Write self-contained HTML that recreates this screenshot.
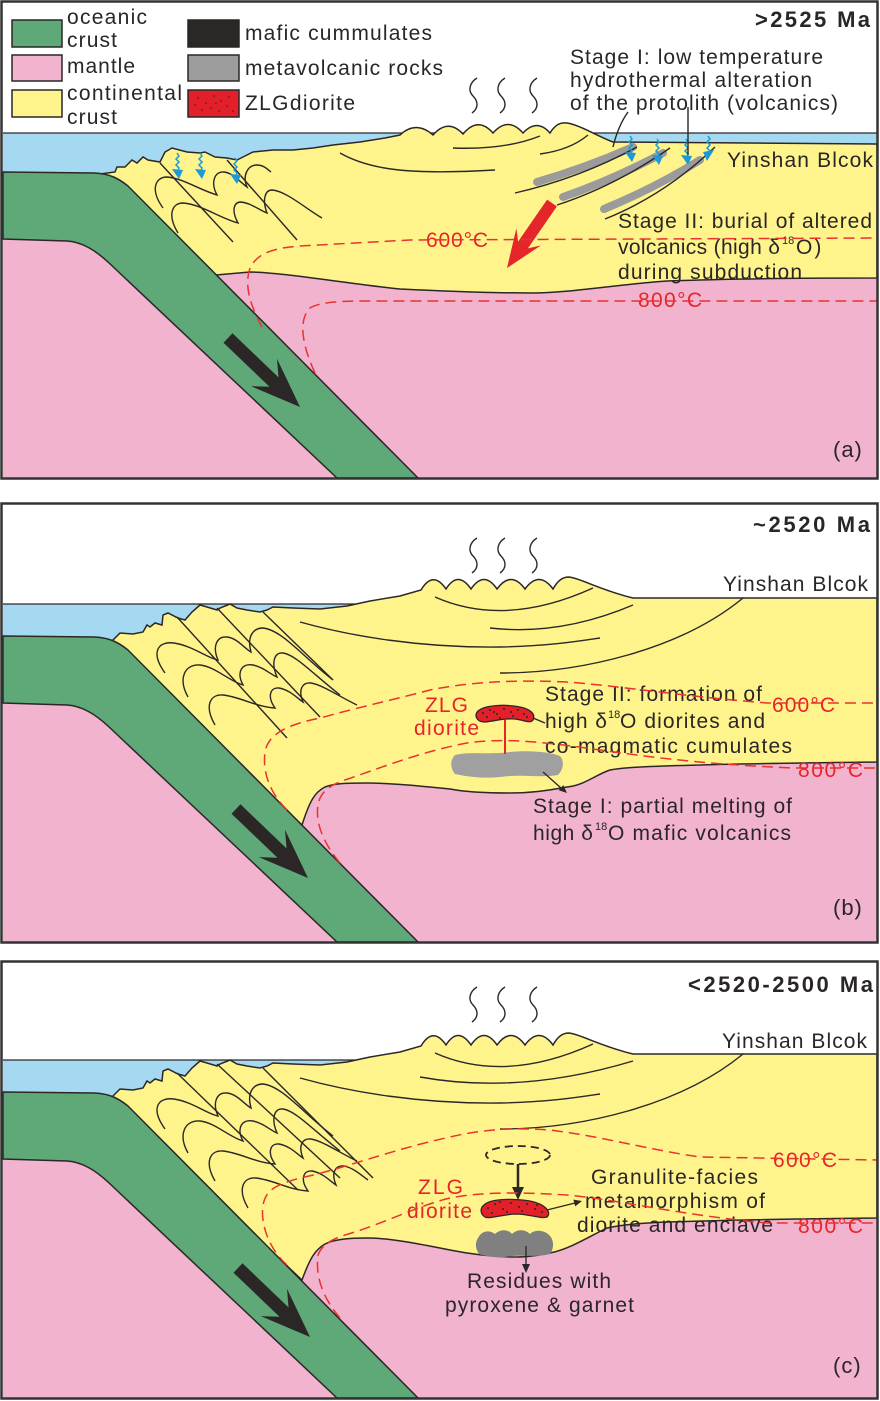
<!DOCTYPE html>
<html><head><meta charset="utf-8">
<style>
html,body{margin:0;padding:0;background:#fff;}
svg{display:block;}
text{font-family:"Liberation Sans",Arial,sans-serif;fill:#2a2627;font-size:21px;}
.r{fill:#e4262b;}
.b{font-weight:bold;font-size:22px;}
.s{font-size:11px;}
.t{font-size:22px;letter-spacing:1px;}
.ln{fill:none;stroke:#2b2727;stroke-width:1.4;}
.iso{fill:none;stroke:#e8332f;stroke-width:1.5;stroke-dasharray:11 6;}
</style></head><body>
<svg width="880" height="1401" viewBox="0 0 880 1401" xmlns="http://www.w3.org/2000/svg">
<rect x="0" y="0" width="880" height="1401" fill="#fff"/>

<!-- ================= PANEL A ================= -->
<rect x="3" y="225" width="874" height="253" fill="#f2b3cf"/>
<rect x="3" y="133" width="874" height="45" fill="#a5d9f2"/>
<line x1="3" y1="133" x2="877" y2="133" stroke="#2b2727" stroke-width="1.2"/>
<path d="M100,174 L115,172 L117,167 L125,167 L132,160 L137,163 L143,157 L148,160 L160,162 L165,152 L172,148 L187,152 L200,153 L205,152 L215,157 L227,158 L237,160 L243,157 L253,152 L273,150 L293,150 L313,148 L333,145 L360,142 L385,138 L400,135 Q416,120 433,135 Q448,118 463,134 Q478,116 493,133 Q508,116 523,133 Q537,118 550,133 C555,125 560,122 567,123 C580,125 595,135 613,142 L877,144 L877,278 C800,278 720,279 667,281 C620,284 570,293 533,293 C490,293 440,291 400,289 C350,284 280,272 250,272 L216,275 Z" fill="#fff48c" stroke="#2b2727" stroke-width="1.5"/>
<path d="M3,172 L95,173 C110,174 118,178 128,186 L418,478 L337,478 L108,262 C95,250 82,242 67,241 L3,239 Z" fill="#5fa878" stroke="#2b2727" stroke-width="1.5"/>
<polygon points="232.5,333.3 278.5,377.4 277,358.7 300,407 250.8,386.1 269.5,386.8 223.5,342.7" fill="#2b2727"/>
<path class="ln" d="M340,153 C370,170 410,175 495,170"/>
<path class="ln" d="M453,148 Q505,150 540,136"/>
<path class="ln" d="M540,154 Q570,150 588,135"/>
<g fill="none" stroke="#9b9b9b" stroke-width="8" stroke-linecap="round">
<path d="M537,182 Q585,168 633,147"/>
<path d="M563,197 Q612,180 663,153"/>
<path d="M604,209 Q655,188 700,160"/>
</g>
<path class="ln" d="M515,193 Q580,178 637,147"/>
<path class="ln" d="M557,205 Q615,186 670,148"/>
<path class="ln" d="M605,219 Q665,195 715,147"/>
<path class="ln" d="M163,208 C150,190 155,177 167,177 C182,178 200,190 217,195 C210,182 215,171 224,172 C233,173 240,182 247,187 C242,175 248,165 257,165 C264,165 268,170 271,172"/>
<path class="ln" d="M178,233 C167,215 172,203 183,203 C200,204 220,218 238,223 C231,210 234,202 241,202 C251,203 259,210 267,213 C262,200 265,190 272,190 C286,191 305,208 322,218"/>
<path class="ln" d="M160,163 L233,242"/>
<path class="ln" d="M227,160 L297,240"/>
<g fill="none" stroke="#1b9ad6" stroke-width="1.5">
<path d="M177,153 l2,3 l-3,3 l3,3 l-3,3 l3,3 l-1,3"/>
<path d="M200,153 l2,3 l-3,3 l3,3 l-3,3 l3,3 l-1,3"/>
<path d="M235,158 l2,3 l-3,3 l3,3 l-3,3 l3,3 l-1,3"/>
<path d="M630,136 l2,3 l-3,3 l3,3 l-3,3 l3,3 l-1,3"/>
<path d="M657,139 l2,3 l-3,3 l3,3 l-3,3 l3,3 l-1,3"/>
<path d="M686,139 l2,3 l-3,3 l3,3 l-3,3 l3,3 l-1,3"/>
<path d="M708,136 l2,3 l-3,3 l3,3 l-3,3 l3,3 l-1,3"/>
</g>
<g fill="#1b9ad6">
<polygon points="172,169 183,170 179,179"/>
<polygon points="195,169 206,170 202,179"/>
<polygon points="230,174 241,175 237,184"/>
<polygon points="625,152 636,153 632,162"/>
<polygon points="652,155 663,156 659,165"/>
<polygon points="681,155 692,156 688,165"/>
<polygon points="703,152 714,150 707,161"/>
</g>
<g class="ln">
<path d="M477,78 C469,83 468,91 473,96 C478,101 479,108 472,113"/>
<path d="M505,78 C497,83 496,91 501,96 C506,101 507,108 500,113"/>
<path d="M537,78 C529,83 528,91 533,96 C538,101 539,108 532,113"/>
</g>
<path class="ln" d="M628,112 Q618,126 613,147" stroke-width="1.2"/>
<path class="ln" d="M688,107 L688,155" stroke-width="1.2"/>
<polygon points="556.9,206.4 527.9,248.4 541,245.4 507,268 516.4,228.2 518.1,241.6 547.1,199.6" fill="#e4262b"/>
<rect x="12" y="20" width="50" height="27" fill="#5fa878" stroke="#2b2727" stroke-width="1.5"/>
<rect x="12" y="55" width="50" height="26" fill="#f2b3cf" stroke="#2b2727" stroke-width="1.5"/>
<rect x="12" y="90" width="50" height="27" fill="#fff48c" stroke="#2b2727" stroke-width="1.5"/>
<rect x="188" y="20" width="51" height="27" fill="#2b2727" stroke="#2b2727" stroke-width="1.5"/>
<rect x="188" y="55" width="51" height="26" fill="#9d9d9d" stroke="#2b2727" stroke-width="1.5"/>
<rect x="188" y="90" width="51" height="27" fill="#e3202a" stroke="#2b2727" stroke-width="1.5"/>
<g fill="#2b2727">
<circle cx="198" cy="98" r="0.8"/><circle cx="206" cy="103" r="0.8"/><circle cx="214" cy="96" r="0.8"/><circle cx="221" cy="101" r="0.8"/><circle cx="229" cy="97" r="0.8"/><circle cx="202" cy="110" r="0.8"/><circle cx="211" cy="108" r="0.8"/><circle cx="219" cy="111" r="0.8"/><circle cx="227" cy="106" r="0.8"/><circle cx="233" cy="111" r="0.8"/><circle cx="195" cy="105" r="0.8"/><circle cx="216" cy="103" r="0.8"/>
</g>
<text x="67" y="24" textLength="80">oceanic</text>
<text x="67" y="47" textLength="50">crust</text>
<text x="67" y="73" textLength="68">mantle</text>
<text x="67" y="100" textLength="115">continental</text>
<text x="67" y="124" textLength="50">crust</text>
<text x="245" y="40" textLength="187">mafic cummulates</text>
<text x="245" y="75" textLength="198">metavolcanic rocks</text>
<text x="245" y="110" textLength="110">ZLGdiorite</text>
<text class="b" x="755" y="27" textLength="115">&gt;2525 Ma</text>
<text x="570" y="64" textLength="253">Stage I: low temperature</text>
<text x="570" y="87" textLength="242">hydrothermal alteration</text>
<text x="570" y="110" textLength="268">of the protolith (volcanics)</text>
<text x="727" y="167" textLength="146">Yinshan Blcok</text>
<text x="618" y="228" textLength="254">Stage II: burial of altered</text>
<text x="618" y="254" textLength="162">volcanics (high δ</text>
<text class="s" x="782" y="244">18</text>
<text x="796" y="254" style="letter-spacing:2px">O)</text>
<text x="618" y="279" textLength="184">during subduction</text>
<text class="r" x="426" y="247" textLength="62">600°C</text>
<text class="r" x="638" y="307" textLength="64">800°C</text>
<text class="t" x="833" y="457">(a)</text>
<path class="iso" d="M262,327 C250,305 244,285 250,268 C258,252 275,248 300,246 L410,240 L877,238"/>
<path class="iso" d="M315,373 C302,345 298,320 310,308 C320,302 340,301 370,301 L877,301"/>
<rect x="1.5" y="1.5" width="876" height="477" fill="none" stroke="#333" stroke-width="2.5"/>

<!-- ================= PANEL B ================= -->
<rect x="3" y="700" width="874" height="242" fill="#f2b3cf"/>
<rect x="3" y="604" width="357" height="46" fill="#a5d9f2"/>
<line x1="3" y1="604" x2="360" y2="604" stroke="#2b2727" stroke-width="1.2"/>
<path d="M110,643 L120,633 L133,634 L143,632 L147,625 L150,627 L155,623 L162,625 L163,615 L168,613 L178,618 L185,620 L192,612 L200,605 L207,607 L217,610 L220,608 L230,604 L237,608 L247,610 L260,612 L267,610 L273,607 L293,608 L320,609 L347,606 L370,601 L400,596 L421,590 Q433,570 446,589 Q458,570 471,589 Q484,570 497,589 Q511,570 525,589 Q539,570 553,589 C558,580 563,577 569,577 C580,578 600,590 633,598 L877,598 L877,762 C800,763 720,764 700,765 C660,766 625,767 610,770 C595,775 585,785 567,787 C545,791 530,793 510,793 C480,793 460,791 450,789 C420,786 390,783 367,783 C350,783 335,783 325,787 C315,792 310,800 302,825 Z" fill="#fff48c" stroke="#2b2727" stroke-width="1.5"/>
<path d="M3,636 L95,637 C110,638 118,642 128,650 L418,942 L337,942 L108,726 C95,714 82,706 67,705 L3,703 Z" fill="#5fa878" stroke="#2b2727" stroke-width="1.5"/>
<g transform="translate(8,471)">
<polygon points="232.5,333.3 278.5,377.4 277,358.7 300,407 250.8,386.1 269.5,386.8 223.5,342.7" fill="#2b2727"/>
</g>
<path class="ln" d="M435,597 Q505,628 593,588"/>
<path class="ln" d="M490,628 Q560,636 633,605"/>
<path class="ln" d="M300,622 C350,636 420,648 500,647 C550,646 580,641 600,638"/>
<path class="ln" d="M500,673 C580,673 680,650 743,598"/>
<path class="ln" d="M165,673 C150,652 158,641 174,643 C193,646 207,658 218,660 C212,646 217,636 227,637 C237,638 244,648 251,652 C247,638 252,628 263,628 C282,630 302,656 333,680"/>
<path class="ln" d="M188,697 C178,679 184,664 200,665 C216,667 229,681 243,685 C236,672 242,663 253,665 C263,667 270,674 277,677 C271,663 274,652 283,653 C296,655 312,673 340,695"/>
<path class="ln" d="M215,725 C204,706 210,694 223,695 C241,697 256,707 275,708 C267,697 270,687 279,688 C290,690 297,698 303,702 C298,690 302,682 311,683 C323,685 340,697 357,705"/>
<path class="ln" d="M177,617 L287,738"/>
<path class="ln" d="M217,608 L320,717"/>
<path class="ln" d="M263,612 L333,680"/>
<g class="ln">
<path d="M477,538 C469,543 468,551 473,556 C478,561 479,568 472,573"/>
<path d="M505,538 C497,543 496,551 501,556 C506,561 507,568 500,573"/>
<path d="M537,538 C529,543 528,551 533,556 C538,561 539,568 532,573"/>
</g>
<path d="M455,755 C470,751 490,755 510,752 C530,750 550,752 560,756 C565,762 563,770 558,775 C540,778 520,774 500,777 C480,779 465,776 455,774 C450,768 450,760 455,755 Z" fill="#a0a0a0"/>
<line x1="505" y1="720" x2="505" y2="754" stroke="#e4262b" stroke-width="2"/>
<path d="M478,711 C485,705 505,704 520,707 C530,709 536,714 533,720 C530,724 524,720 515,719 C505,718 495,721 485,722 C476,722 474,715 478,711 Z" fill="#e3202a" stroke="#2b2727" stroke-width="1.3"/>
<g fill="#2b2727">
<circle cx="483" cy="713" r="1"/><circle cx="490" cy="710" r="1"/><circle cx="497" cy="714" r="1"/><circle cx="504" cy="709" r="1"/><circle cx="511" cy="712" r="1"/><circle cx="518" cy="710" r="1"/><circle cx="524" cy="714" r="1"/><circle cx="487" cy="717" r="1"/><circle cx="500" cy="718" r="1"/><circle cx="513" cy="716" r="1"/><circle cx="527" cy="717" r="1"/><circle cx="494" cy="712" r="1"/>
</g>
<path class="ln" d="M533,718 L545,723" stroke-width="1.2"/>
<line x1="543" y1="772" x2="561" y2="788" stroke="#2b2727" stroke-width="1.3"/>
<polygon points="563.3,785.1 558.7,790.3 567,793" fill="#2b2727"/>
<text class="b" x="753" y="532" textLength="117">~2520 Ma</text>
<text x="723" y="591" textLength="145">Yinshan Blcok</text>
<text class="r" x="425" y="712" textLength="43">ZLG</text>
<text class="r" x="414" y="735" textLength="65">diorite</text>
<text x="545" y="701" textLength="217">Stage II: formation of</text>
<text x="545" y="728" textLength="62">high δ</text>
<text class="s" x="608" y="718">18</text>
<text x="620" y="728" textLength="145">O diorites and</text>
<text x="545" y="753" textLength="247">co-magmatic cumulates</text>
<text class="r" x="772" y="712" textLength="63">600°C</text>
<text class="r" x="798" y="777" textLength="65">800°C</text>
<text x="533" y="813" textLength="259">Stage I: partial melting of</text>
<text x="533" y="840" textLength="60">high δ</text>
<text class="s" x="595" y="830">18</text>
<text x="608" y="840" textLength="183">O mafic volcanics</text>
<text class="t" x="833" y="915">(b)</text>
<path class="iso" d="M287,810 C272,795 262,775 265,752 C268,735 285,725 320,718 C360,707 400,698 430,690 C460,684 500,679 567,682 C620,686 680,696 767,703 L877,703"/>
<path class="iso" d="M340,863 C325,845 315,825 318,805 C320,792 330,785 345,780 C380,768 420,752 467,743 C500,738 540,741 600,750 C650,757 700,764 793,768 L877,768"/>
<rect x="1.5" y="503.5" width="876" height="439" fill="none" stroke="#333" stroke-width="2.5"/>

<!-- ================= PANEL C ================= -->
<rect x="3" y="1156" width="874" height="242" fill="#f2b3cf"/>
<rect x="3" y="1060" width="357" height="46" fill="#a5d9f2"/>
<line x1="3" y1="1060" x2="360" y2="1060" stroke="#2b2727" stroke-width="1.2"/>
<g transform="translate(0,456)">
<path d="M110,643 L120,633 L133,634 L143,632 L147,625 L150,627 L155,623 L162,625 L163,615 L168,613 L178,618 L185,620 L192,612 L200,605 L207,607 L217,610 L220,608 L230,604 L237,608 L247,610 L260,612 L267,610 L273,607 L293,608 L320,609 L347,606 L370,601 L400,596 L421,590 Q433,570 446,589 Q458,570 471,589 Q484,570 497,589 Q511,570 525,589 Q539,570 553,589 C558,580 563,577 569,577 C580,578 600,590 633,598 L877,598 L877,762 C780,763 700,765 667,766 C640,767 620,769 607,772 C590,780 570,793 550,797 C535,800 525,801 517,801 C495,801 470,798 450,794 C420,788 390,782 367,782 C350,782 335,783 325,788 C315,794 310,802 302,824 Z" fill="#fff48c" stroke="#2b2727" stroke-width="1.5"/>
<path d="M3,636 L95,637 C110,638 118,642 128,650 L418,942 L337,942 L108,726 C95,714 82,706 67,705 L3,703 Z" fill="#5fa878" stroke="#2b2727" stroke-width="1.5"/>
<path class="ln" d="M435,597 Q505,628 593,588"/>
<path class="ln" d="M420,621 Q520,639 633,605"/>
<path class="ln" d="M300,622 C350,636 420,648 500,647 C550,646 580,641 600,638"/>
<path class="ln" d="M500,673 C580,673 680,650 743,598"/>
<path class="ln" d="M165,673 C150,652 158,641 174,643 C193,646 207,658 218,660 C212,646 217,636 227,637 C237,638 244,648 251,652 C247,638 252,628 263,628 C282,630 302,656 333,680"/>
<path class="ln" d="M188,697 C178,679 184,664 200,665 C216,667 229,681 243,685 C236,672 242,663 253,665 C263,667 270,674 277,677 C271,663 274,652 283,653 C296,655 312,673 340,695"/>
<path class="ln" d="M215,725 C204,706 210,694 223,695 C241,697 256,707 275,708 C267,697 270,687 279,688 C290,690 297,698 303,702 C298,690 302,682 311,683 C323,685 340,697 357,705"/>
<path class="ln" d="M248,752 C237,733 243,721 256,722 C274,724 289,734 308,735 C300,724 303,714 312,715 C323,717 330,725 336,729 C331,717 335,709 344,710 C354,712 362,720 368,724"/>
<path class="ln" d="M177,617 L298,734"/>
<path class="ln" d="M217,608 L340,722"/>
<path class="ln" d="M263,612 L373,722"/>
</g>
<g transform="translate(10,930)">
<polygon points="232.5,333.3 278.5,377.4 277,358.7 300,407 250.8,386.1 269.5,386.8 223.5,342.7" fill="#2b2727"/>
</g>
<g class="ln">
<path d="M477,987 C469,992 468,1000 473,1005 C478,1010 479,1017 472,1022"/>
<path d="M505,987 C497,992 496,1000 501,1005 C506,1010 507,1017 500,1022"/>
<path d="M537,987 C529,992 528,1000 533,1005 C538,1010 539,1017 532,1022"/>
</g>
<path d="M478,1238 C482,1230 490,1230 495,1234 C500,1229 508,1229 512,1234 C517,1229 525,1229 530,1234 C535,1229 545,1230 550,1236 C555,1242 553,1250 550,1254 C535,1258 520,1254 505,1257 C495,1258 485,1256 479,1254 C475,1248 475,1243 478,1238 Z" fill="#808080"/>
<ellipse cx="518" cy="1155" rx="32" ry="9" fill="none" stroke="#2b2727" stroke-width="1.8" stroke-dasharray="8 5"/>
<line x1="518" y1="1164" x2="518" y2="1189" stroke="#2b2727" stroke-width="2.5"/>
<polygon points="512,1187 524,1187 518,1200" fill="#2b2727"/>
<path d="M484,1205 C490,1199 510,1198 530,1201 C545,1204 552,1212 547,1217 C540,1219 530,1214 515,1214 C500,1215 490,1219 485,1217 C480,1214 480,1208 484,1205 Z" fill="#e3202a" stroke="#2b2727" stroke-width="1.3"/>
<g fill="#2b2727">
<circle cx="488" cy="1208" r="1"/><circle cx="495" cy="1204" r="1"/><circle cx="503" cy="1209" r="1"/><circle cx="511" cy="1203" r="1"/><circle cx="519" cy="1207" r="1"/><circle cx="527" cy="1204" r="1"/><circle cx="535" cy="1209" r="1"/><circle cx="542" cy="1212" r="1"/><circle cx="492" cy="1213" r="1"/><circle cx="507" cy="1212" r="1"/><circle cx="522" cy="1211" r="1"/><circle cx="537" cy="1205" r="1"/><circle cx="500" cy="1202" r="1"/>
</g>
<line x1="547" y1="1210" x2="575" y2="1203" stroke="#2b2727" stroke-width="1.3"/>
<polygon points="575.2,1206.4 573.4,1199.6 582,1201" fill="#2b2727"/>
<line x1="526" y1="1246" x2="526" y2="1266" stroke="#2b2727" stroke-width="1.3"/>
<polygon points="522,1264 530,1264 526,1273" fill="#2b2727"/>
<text class="b" x="688" y="992" textLength="185">&lt;2520-2500 Ma</text>
<text x="722" y="1048" textLength="145">Yinshan Blcok</text>
<text class="r" x="418" y="1194" textLength="45">ZLG</text>
<text class="r" x="407" y="1218" textLength="65">diorite</text>
<text x="591" y="1184" textLength="167">Granulite-facies</text>
<text x="585" y="1208" textLength="180">metamorphism of</text>
<text x="577" y="1232" textLength="196">diorite and enclave</text>
<text class="r" x="773" y="1167" textLength="64">600°C</text>
<text class="r" x="798" y="1233" textLength="65">800°C</text>
<text x="467" y="1288" textLength="144">Residues with</text>
<text x="445" y="1312" textLength="189">pyroxene &amp; garnet</text>
<text class="t" x="833" y="1373">(c)</text>
<path class="iso" d="M287,1265 C270,1250 260,1225 263,1205 C266,1190 275,1185 300,1178 C340,1170 390,1150 450,1137 C480,1130 510,1127 550,1130 C600,1136 650,1150 700,1157 L877,1160"/>
<path class="iso" d="M340,1318 C325,1300 315,1280 318,1255 C322,1245 330,1240 345,1235 C380,1225 420,1205 450,1198 C480,1192 520,1192 567,1195 C620,1200 680,1215 767,1223 L877,1223"/>
<rect x="1.5" y="961.5" width="876" height="437" fill="none" stroke="#333" stroke-width="2.5"/>
</svg>
</body></html>
